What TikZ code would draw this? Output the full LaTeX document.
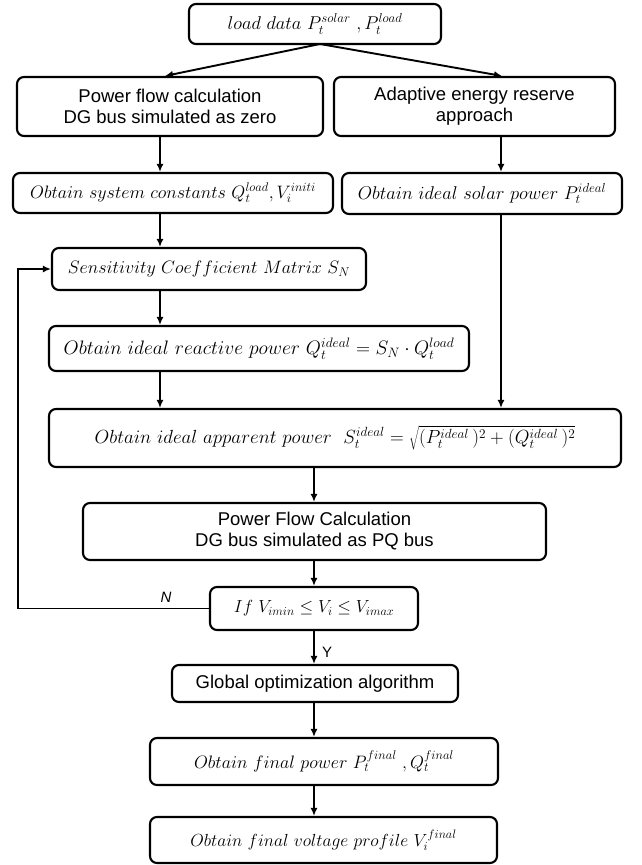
\RequirePackage{fix-cm}
\documentclass[tikz,border=0pt]{standalone}
\usepackage{fontspec}
\setsansfont{Liberation Sans}
\usetikzlibrary{arrows.meta}
\begin{document}
\begin{tikzpicture}[x=1pt,y=-1pt,
  box/.style={draw, line width=2.1pt, rounded corners=7pt, inner sep=0pt, align=center},
  sbox/.style={box, font=\sffamily\fontsize{18.5}{21}\selectfont},
  mbox/.style={box, font=\fontsize{#1}{#1}\selectfont},
  mbox/.default=18,
  arr/.style={line width=1.9pt, -{Latex[length=8pt,width=7pt]}},
  lbl/.style={font=\sffamily\fontsize{15}{18}\selectfont, inner sep=0pt}]
\useasboundingbox (0,0) rectangle (641,865);
\fill[white] (0,0) rectangle (641,865);

\node[mbox=18.5, minimum width=252pt, minimum height=40pt] (b1) at (315,24) {$load\ data\ P_t^{solar}\ ,P_t^{load}$};
\node[sbox, minimum width=306pt, minimum height=59pt] (b2) at (170,106.5) {Power flow calculation\\DG bus simulated as zero};
\node[sbox, minimum width=281pt, minimum height=59pt] (b3) at (474.5,106.5) {Adaptive energy reserve\\approach};
\node[mbox=18, minimum width=320pt, minimum height=40pt] (b4) at (173,193) {$Obtain\ system\ constants\ Q_t^{load},V_i^{initi}$};
\node[mbox=18.5, minimum width=280pt, minimum height=41pt] (b5) at (482,193.5) {$Obtain\ ideal\ solar\ power\ P_t^{ideal}$};
\node[mbox=18, minimum width=314pt, minimum height=42pt] (b6) at (209,269) {$Sensitivity\ Coefficient\ Matrix\ S_N$};
\node[mbox=19.5, minimum width=420pt, minimum height=45pt] (b7) at (259,348.5) {$Obtain\ ideal\ reactive\ power\ Q_t^{ideal}=S_N\cdot Q_t^{load}$};
\node[mbox=19, minimum width=572pt, minimum height=58pt] (b8) at (335,438) {$Obtain\ ideal\ apparent\ power\ \ S_t^{ideal}=\sqrt{(P_t^{ideal}\,)^{2}+(Q_t^{ideal}\,)^{2}}$};
\node[sbox, minimum width=463pt, minimum height=57pt] (b9) at (314.5,531.5) {Power Flow Calculation\\DG bus simulated as PQ bus};
\node[mbox=17.5, minimum width=208pt, minimum height=43pt] (b10) at (314,608.5) {$If\ V_{imin}\le V_i\le V_{imax}$};
\node[sbox, minimum width=286pt, minimum height=37pt] (b11) at (315,683.5) {Global optimization algorithm};
\node[mbox=18, minimum width=348pt, minimum height=47pt] (b12) at (324,761.5) {$Obtain\ final\ power\ P_t^{final}\ ,Q_t^{final}$};
\node[mbox=17.5, minimum width=347pt, minimum height=46pt] (b13) at (323.5,840) {$Obtain\ final\ voltage\ profile\ V_i^{final}$};

\coordinate (top) at (320,44);
\coordinate (cL) at (160,0);
\coordinate (cR) at (501,0);
\coordinate (cM) at (314,0);
\coordinate (fbL) at (18,0);

\draw[arr] (top) -- (b2.north -| 165,0);
\draw[arr] (top) -- (b3.north -| 502,0);
\draw[arr] (b2.south -| cL) -- (b4.north -| cL);
\draw[arr] (b3.south -| cR) -- (b5.north -| cR);
\draw[arr] (b4.south -| cL) -- (b6.north -| cL);
\draw[arr] (b6.south -| cL) -- (b7.north -| cL);
\draw[arr] (b7.south -| cL) -- (b8.north -| cL);
\draw[arr] (b5.south -| cR) -- (b8.north -| cR);
\draw[arr] (b8.south -| cM) -- (b9.north -| cM);
\draw[arr] (b9.south -| cM) -- (b10.north -| cM);
\draw[arr] (b10.south -| cM) -- (b11.north -| cM);
\draw[arr] (b11.south -| cM) -- (b12.north -| cM);
\draw[arr] (b12.south -| cM) -- (b13.north -| cM);
\draw[arr] (b10.west) -| (fbL |- b6.west) -- (b6.west);

\node[lbl, font=\sffamily\itshape\fontsize{15}{18}\selectfont] (nlab) at (166,597) {N};
\node[lbl] (ylab) at (327,652) {Y};
\end{tikzpicture}
\end{document}
